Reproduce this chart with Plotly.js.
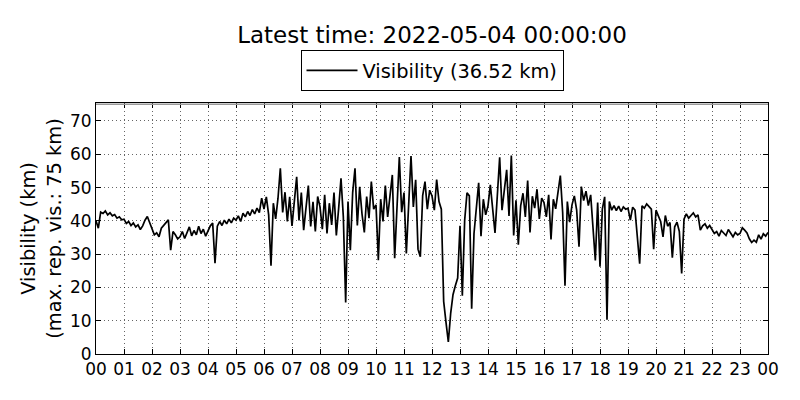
<!DOCTYPE html>
<html>
<head>
<meta charset="utf-8">
<script src="https://cdn.plot.ly/plotly-3.0.1.min.js"></script>
<style>
  html, body { margin: 0; padding: 0; background: #ffffff; }
  #chart { width: 800px; height: 400px; }
</style>
</head>
<body>
<div id="chart"></div>
<script>
// ---- data (5-minute samples, km) ----
const startDay = [2022, 5, 3];   // series starts 2022-05-03 00:00
const stepMinutes = 5;
const latestTime = "2022-05-04 00:00:00";
const maxRepVis = 75;

const vis00_06 = [
  40.0, 37.8, 42.6, 42.2, 43.0, 41.8, 42.4, 41.5, 41.9, 40.8, 41.2, 40.3,
  40.5, 39.2, 39.8, 38.6, 39.4, 38.2, 38.8, 37.4, 38.5, 40.2, 41.3, 39.5,
  37.5, 35.8, 36.4, 35.2, 37.8, 38.6, 39.4, 40.3, 31.2, 36.8, 35.8, 34.6,
  35.2, 36.8, 34.7, 36.3, 38.2, 35.5, 37.1, 35.8, 38.4, 36.2, 37.5, 35.4,
  37.2, 38.5, 39.3, 27.3, 38.4, 39.8, 38.6, 40.2, 39.1, 40.5, 39.4, 40.8,
  40.2, 41.5, 39.8, 42.3, 41.2, 42.8, 41.6, 43.4, 42.1, 43.8, 42.5, 46.8
];
const vis06_12 = [
  43.5, 47.2, 41.8, 26.5, 45.3, 40.6, 46.8, 55.8, 42.5, 48.6, 39.8, 47.2,
  38.5, 46.2, 53.2, 40.1, 48.5, 37.2, 44.8, 50.6, 38.3, 45.7, 36.8, 47.3,
  44.2, 37.5, 47.8, 36.2, 45.3, 38.8, 48.5, 35.6, 43.8, 52.8, 41.2, 15.5,
  45.8, 31.2, 48.5, 55.8, 38.6, 50.2, 42.1, 36.5, 47.3, 40.8, 51.8, 43.5,
  44.8, 28.2, 46.5, 39.8, 50.6, 41.2, 47.5, 53.8, 28.8, 45.2, 59.2, 42.6,
  48.5, 30.2, 46.8, 59.5, 44.2, 52.3, 31.5, 29.2, 47.6, 51.8, 43.5, 49.2
];
const vis12_18 = [
  47.5, 43.2, 52.4, 45.8, 43.5, 15.8, 9.5, 3.6, 12.2, 17.8, 20.5, 22.8,
  38.5, 17.5, 40.2, 48.4, 47.5, 13.6, 36.2, 44.1, 51.4, 35.4, 46.5, 41.8,
  44.5, 50.8, 42.3, 36.4, 47.6, 59.1, 43.2, 48.8, 55.3, 41.5, 59.6, 35.6,
  46.2, 32.8, 44.5, 48.3, 41.2, 52.1, 36.5, 47.4, 43.8, 49.5, 40.6, 46.8,
  45.5, 41.2, 47.8, 34.4, 46.5, 43.6, 48.2, 53.6, 42.5, 20.5, 45.8, 39.6,
  44.8, 47.5, 43.2, 32.2, 50.3, 46.1, 48.9, 44.6, 47.8, 36.2, 28.1, 45.5
];
const vis18_24 = [
  26.2, 43.5, 47.2, 10.3, 45.8, 43.2, 44.6, 43.1, 44.4, 42.8, 44.2, 43.5,
  43.8, 40.2, 44.1, 43.2, 35.6, 27.1, 44.5, 43.8, 45.1, 44.2, 43.5, 31.5,
  43.2, 41.5, 39.8, 35.2, 41.6, 38.4, 39.5, 28.9, 38.2, 39.6, 36.8, 24.2,
  40.5, 42.1, 40.8, 41.6, 42.4, 41.2, 41.8, 37.2, 38.5, 39.1, 37.8, 38.6,
  37.5, 36.2, 36.8, 35.4, 37.1, 36.3, 35.6, 37.4, 36.1, 35.2, 36.5, 35.8,
  36.2, 37.9, 37.2, 36.4, 34.6, 33.5, 34.2, 33.6, 35.8, 34.5, 36.1, 35.4,
  36.52
];
const yTickValues = [0, 10, 20, 30, 40, 50, 60, 70];

// ---- build series ----
const visibility = [].concat(vis00_06, vis06_12, vis12_18, vis18_24);
function pad(n) { return (n < 10 ? "0" : "") + n; }
function stamp(ms) {
  const d = new Date(ms);
  return d.getUTCFullYear() + "-" + pad(d.getUTCMonth() + 1) + "-" + pad(d.getUTCDate()) +
         " " + pad(d.getUTCHours()) + ":" + pad(d.getUTCMinutes());
}
const t0 = Date.UTC(startDay[0], startDay[1] - 1, startDay[2], 0, 0);
const times = visibility.map((v, i) => stamp(t0 + i * stepMinutes * 60000));
const tEnd = stamp(t0 + 24 * 3600000);
const lastValue = visibility[visibility.length - 1];

const font = "DejaVu Sans, Liberation Sans, sans-serif";

const trace = {
  x: times,
  y: visibility,
  type: "scatter",
  mode: "lines",
  name: "Visibility (" + lastValue.toFixed(2) + " km)",
  line: { color: "#000000", width: 1.7 },
  hoverinfo: "skip"
};

const layout = {
  width: 800,
  height: 400,
  paper_bgcolor: "#ffffff",
  plot_bgcolor: "#ffffff",
  margin: { l: 96, r: 32, t: 103, b: 46, pad: 0 },
  font: { family: font, color: "#000000", size: 17 },
  title: {
    text: "Latest time: " + latestTime,
    font: { family: font, size: 23, color: "#000000" },
    x: 0.54, xanchor: "center", xref: "container",
    y: 0.912, yanchor: "middle", yref: "container"
  },
  showlegend: true,
  legend: {
    orientation: "h",
    x: 0.5, xanchor: "center", xref: "paper",
    y: 1.21, yanchor: "top", yref: "paper",
    itemwidth: 51,
    bgcolor: "#ffffff",
    bordercolor: "#000000",
    borderwidth: 1,
    font: { family: font, size: 19.4, color: "#000000" }
  },
  xaxis: {
    type: "date",
    range: [times[0], tEnd],
    tickformat: "%H",
    dtick: 3600000,
    tick0: times[0],
    ticks: "inside",
    ticklen: 5,
    tickcolor: "#000000",
    showline: true,
    linecolor: "#000000",
    linewidth: 1,
    mirror: "ticks",
    showgrid: true,
    gridcolor: "#000000",
    gridwidth: 0.6,
    griddash: "1px,3px",
    zeroline: false,
    tickfont: { family: font, size: 17, color: "#000000" },
    fixedrange: true
  },
  yaxis: {
    range: [0, 75.4],
    tickvals: yTickValues,
    ticks: "inside",
    ticklen: 5,
    tickcolor: "#000000",
    showline: true,
    linecolor: "#000000",
    linewidth: 1,
    mirror: "ticks",
    showgrid: true,
    gridcolor: "#000000",
    gridwidth: 0.6,
    griddash: "1px,3px",
    zeroline: false,
    tickfont: { family: font, size: 17, color: "#000000" },
    title: {
      text: "Visibility (km)<br>(max. rep. vis.: " + maxRepVis + " km)",
      font: { family: font, size: 19.4, color: "#000000" },
      standoff: 3
    },
    fixedrange: true
  },
  shapes: [{
    type: "line",
    xref: "paper", x0: 0, x1: 1,
    yref: "y", y0: maxRepVis, y1: maxRepVis,
    line: { color: "#9a9a9a", width: 1.5 },
    layer: "above"
  }]
};

Plotly.newPlot("chart", [trace], layout, { staticPlot: true, displayModeBar: false });
</script>
</body>
</html>
